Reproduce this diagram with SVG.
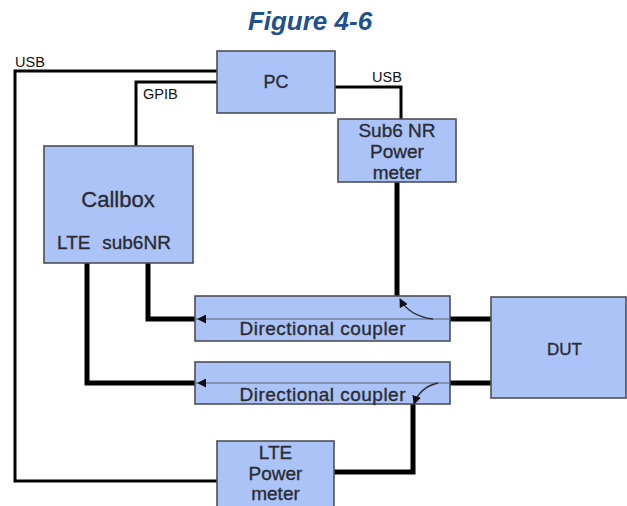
<svg xmlns="http://www.w3.org/2000/svg" width="627" height="506" viewBox="0 0 627 506">
<defs>
<style>
.box{fill:#abc3f7;stroke:#4d4f55;stroke-width:1.6}
.div{stroke:#5b6378;stroke-width:1.2;fill:none}
.t{font-family:"Liberation Sans",Arial,sans-serif;fill:#2a2c33;stroke:#2a2c33;stroke-width:0.35;text-anchor:middle}
.lbl{font-family:"Liberation Sans",Arial,sans-serif;fill:#111;font-size:14.5px}
.thin{stroke:#000;stroke-width:3;fill:none}
.thick{stroke:#000;stroke-width:5;fill:none}
.curve{stroke:#2a2d36;stroke-width:1.4;fill:none}
</style>
<marker id="ah" viewBox="0 0 10 10" refX="9" refY="5" markerWidth="9" markerHeight="9" markerUnits="userSpaceOnUse" orient="auto">
<path d="M0,0 L10,5 L0,10 z" fill="#111"/>
</marker>
</defs>
<rect width="627" height="506" fill="#fff"/>
<text x="310" y="30" font-family="Liberation Sans,Arial,sans-serif" font-size="26" font-weight="bold" font-style="italic" fill="#21508c" text-anchor="middle">Figure 4-6</text>

<g id="connectors">
<path class="thin" d="M217,71 H15 V481 H217"/>
<path class="thin" d="M217,82 H136 V146"/>
<path class="thin" d="M335,87 H401 V119"/>
<path class="thick" d="M397,182 V297"/>
<path class="thick" d="M148,263 V319 H197"/>
<path class="thick" d="M87,263 V383 H197"/>
<path class="thick" d="M491,319 H433"/>
<path class="thick" d="M491,383 H438"/>
<path class="thick" d="M413,404 V472 H334"/>
</g>

<g id="pc"><rect class="box" x="217" y="51" width="118" height="62"/><text class="t" x="276" y="88" font-size="18">PC</text></g>
<g id="callbox"><rect class="box" x="44" y="146" width="149" height="117"/>
<text class="t" x="118" y="207" font-size="22">Callbox</text>
<text class="t" x="57" y="249" font-size="19" style="text-anchor:start" word-spacing="6.5">LTE sub6NR</text></g>
<g id="sub6meter"><rect class="box" x="338" y="119" width="118" height="63"/>
<text class="t" x="397" y="137" font-size="19">Sub6 NR</text>
<text class="t" x="397" y="158" font-size="19">Power</text>
<text class="t" x="397" y="179" font-size="19">meter</text></g>
<g id="coupler1"><rect class="box" x="195" y="296" width="255" height="45"/>
<line class="div" x1="195" y1="319" x2="450" y2="319"/>
<text class="t" x="322.5" y="335" font-size="19" textLength="166" lengthAdjust="spacing">Directional coupler</text></g>
<g id="coupler2"><rect class="box" x="195" y="362" width="255" height="42"/>
<line class="div" x1="195" y1="383" x2="450" y2="383"/>
<text class="t" x="322.5" y="401" font-size="19" textLength="166" lengthAdjust="spacing">Directional coupler</text></g>
<g id="dut"><rect class="box" x="491" y="297" width="135" height="101"/>
<text class="t" x="564.5" y="355" font-size="17">DUT</text></g>
<g id="ltemeter"><rect class="box" x="217" y="441" width="117" height="66"/>
<text class="t" x="275.5" y="459" font-size="19">LTE</text>
<text class="t" x="275.5" y="480" font-size="19">Power</text>
<text class="t" x="275.5" y="500" font-size="19">meter</text></g>

<g id="arrows">
<path d="M206,319 L198,319" stroke="none" fill="none" marker-end="url(#ah)"/>
<path d="M206,383 L198,383" stroke="none" fill="none" marker-end="url(#ah)"/>
<path class="curve" d="M433,319 Q409,316 400,299" marker-end="url(#ah)"/>
<path class="curve" d="M438,383 Q420,387 414,404" marker-end="url(#ah)"/>
</g>

<g id="labels">
<text class="lbl" x="15" y="67">USB</text>
<text class="lbl" x="143" y="99">GPIB</text>
<text class="lbl" x="372" y="82">USB</text>
</g>
</svg>
